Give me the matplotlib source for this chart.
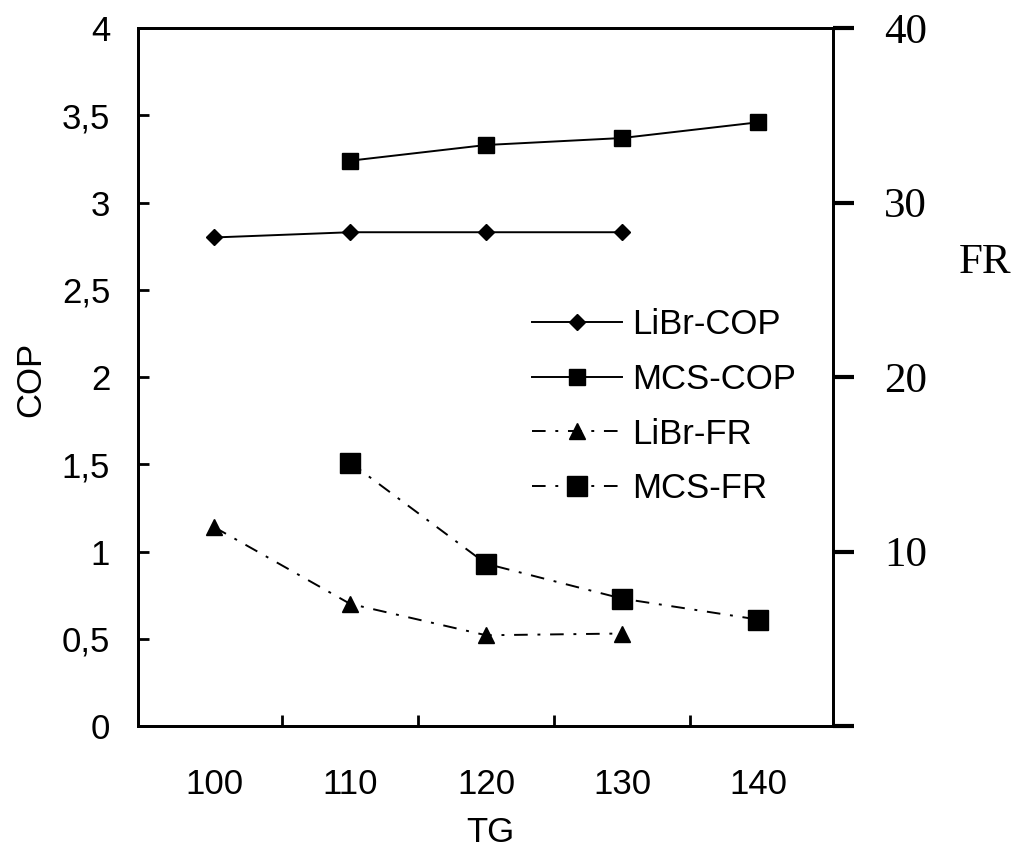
import matplotlib
matplotlib.use('Agg')
import matplotlib.pyplot as plt
from matplotlib.ticker import FixedLocator, FuncFormatter

tg = [100, 110, 120, 130, 140]
libr_tg = [100, 110, 120, 130]
mcs_tg = [110, 120, 130, 140]
libr_cop = [2.80, 2.83, 2.83, 2.83]
mcs_cop = [3.24, 3.33, 3.37, 3.46]
libr_fr = [11.4, 7.0, 5.2, 5.3]
mcs_fr = [15.1, 9.3, 7.3, 6.1]
cop_ticks = [0, 0.5, 1, 1.5, 2, 2.5, 3, 3.5, 4]
fr_ticks = [0, 10, 20, 30, 40]

plt.rcParams['font.family'] = ['Liberation Sans', 'DejaVu Sans']
fig = plt.figure(figsize=(10.25, 8.49), dpi=100)
ax = fig.add_axes([0.1346, 0.1449, 0.678, 0.822])
ax2 = ax.twinx()

dd = (0, (7, 5, 1.5, 5))
l1, = ax.plot(libr_tg, libr_cop, '-', color='black', lw=1.4, marker='D', ms=8)
l2, = ax.plot(mcs_tg, mcs_cop, '-', color='black', lw=1.4, marker='s', ms=11)
l3, = ax2.plot(libr_tg, libr_fr, linestyle=dd, color='black', lw=1.4, marker='^', ms=12)
l4, = ax2.plot(mcs_tg, mcs_fr, linestyle=dd, color='black', lw=1.4, marker='s', ms=15)

ax.set_xlim(94.4, 145.5)
ax.set_ylim(0, 4)
ax2.set_ylim(0, 40)

# x: labels at categories, tick marks between them
ax.xaxis.set_major_locator(FixedLocator(tg))
ax.xaxis.set_minor_locator(FixedLocator([105, 115, 125, 135]))
ax.tick_params(axis='x', which='major', length=0, pad=30, labelsize=25)
ax.tick_params(axis='x', which='minor', direction='in', length=8, width=2)

ax.set_yticks(cop_ticks)
ax.yaxis.set_major_formatter(FuncFormatter(lambda v, p: ('%g' % v).replace('.', ',')))
ax.tick_params(axis='y', direction='in', length=8, width=2, pad=20, labelsize=25)

ax2.set_yticks(fr_ticks)
ax2.set_yticklabels(['', '10', '20', '30', '40'], family='Liberation Serif', fontsize=31)
ax2.tick_params(axis='y', direction='out', length=15, width=3, pad=22)

for a in (ax, ax2):
    for s in a.spines.values():
        s.set_linewidth(2)

fig.text(0.030, 0.553, 'COP', rotation=90, fontsize=25, ha='center', va='center')
fig.text(0.478, 0.020, 'TG', fontsize=25, ha='center', va='center')
fig.text(0.961, 0.691, 'FR', fontsize=31, family='Liberation Serif', ha='center', va='center')

ax.legend([l1, l2, l3, l4], ['LiBr-COP', 'MCS-COP', 'LiBr-FR', 'MCS-FR'],
          loc='upper left', bbox_to_anchor=(0.505, 0.653), bbox_transform=fig.transFigure,
          frameon=False, fontsize=25, handlelength=2.6, handletextpad=0.3,
          labelspacing=0.62, borderaxespad=0)

fig.savefig('out.png', dpi=100)
